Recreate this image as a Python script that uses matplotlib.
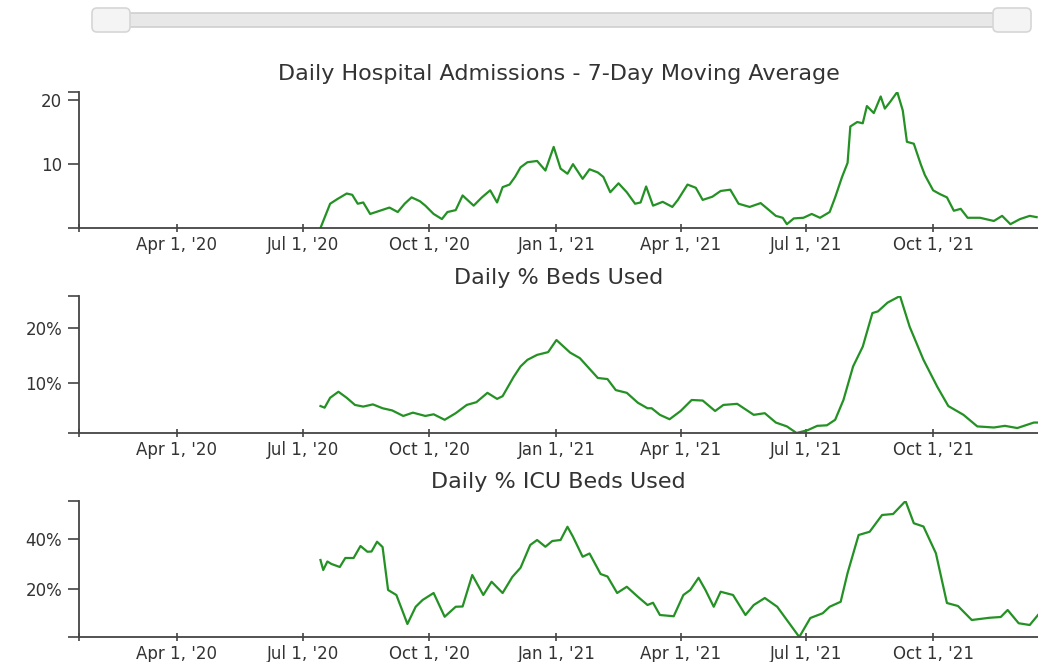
import pandas as pd
import matplotlib.pyplot as plt
import matplotlib.dates as mdates
from matplotlib.patches import FancyBboxPatch
from matplotlib.ticker import FuncFormatter

# daily hospital admissions, 7-day moving average
adm_dates = ["2020-07-14", "2020-07-21", "2020-07-26", "2020-08-02", "2020-08-06", "2020-08-10",
             "2020-08-14", "2020-08-19", "2020-08-26", "2020-09-02", "2020-09-08", "2020-09-13",
             "2020-09-18", "2020-09-24", "2020-09-28", "2020-10-04", "2020-10-10", "2020-10-14",
             "2020-10-20", "2020-10-25", "2020-11-02", "2020-11-08", "2020-11-14", "2020-11-19",
             "2020-11-23", "2020-11-28", "2020-12-02", "2020-12-06", "2020-12-11", "2020-12-18",
             "2020-12-24", "2020-12-30", "2021-01-04", "2021-01-09", "2021-01-13", "2021-01-20",
             "2021-01-25", "2021-01-31", "2021-02-04", "2021-02-09", "2021-02-15", "2021-02-21",
             "2021-02-27", "2021-03-03", "2021-03-07", "2021-03-12", "2021-03-19", "2021-03-26",
             "2021-03-30", "2021-04-06", "2021-04-12", "2021-04-17", "2021-04-24", "2021-04-30",
             "2021-05-07", "2021-05-13", "2021-05-21", "2021-05-29", "2021-06-03", "2021-06-09",
             "2021-06-14", "2021-06-17", "2021-06-22", "2021-06-29", "2021-07-05", "2021-07-11",
             "2021-07-18", "2021-07-22", "2021-07-27", "2021-07-31", "2021-08-02", "2021-08-07",
             "2021-08-11", "2021-08-14", "2021-08-19", "2021-08-24", "2021-08-27", "2021-08-31",
             "2021-09-05", "2021-09-09", "2021-09-12", "2021-09-17", "2021-09-22", "2021-09-25",
             "2021-10-01", "2021-10-06", "2021-10-11", "2021-10-16", "2021-10-21", "2021-10-26",
             "2021-11-04", "2021-11-14", "2021-11-20", "2021-11-26", "2021-12-03", "2021-12-10",
             "2021-12-15"]
adm_vals = [0.0, 3.8, 4.5, 5.4, 5.2, 3.8, 4.0, 2.2, 2.7, 3.2, 2.5, 3.8,
            4.8, 4.2, 3.5, 2.2, 1.4, 2.5, 2.8, 5.1, 3.5, 4.8, 5.9, 4.0,
            6.4, 6.8, 8.0, 9.5, 10.3, 10.5, 9.0, 12.7, 9.3, 8.5, 10.0, 7.7,
            9.2, 8.7, 8.0, 5.6, 7.0, 5.6, 3.8, 4.0, 6.5, 3.5, 4.1, 3.3,
            4.4, 6.8, 6.3, 4.4, 4.9, 5.8, 6.0, 3.8, 3.3, 3.9, 3.0, 1.9,
            1.6, 0.6, 1.5, 1.6, 2.2, 1.6, 2.5, 4.8, 8.0, 10.2, 15.9, 16.6,
            16.4, 19.1, 18.0, 20.6, 18.7, 19.8, 21.3, 18.4, 13.5, 13.2, 10.0, 8.3,
            5.9, 5.3, 4.8, 2.7, 3.0, 1.6, 1.6, 1.1, 1.9, 0.6, 1.4, 1.9,
            1.7]

# daily % beds used
beds_dates = ["2020-07-14", "2020-07-17", "2020-07-21", "2020-07-27", "2020-08-02", "2020-08-08",
              "2020-08-14", "2020-08-21", "2020-08-28", "2020-09-04", "2020-09-12", "2020-09-19",
              "2020-09-28", "2020-10-04", "2020-10-12", "2020-10-20", "2020-10-28", "2020-11-04",
              "2020-11-12", "2020-11-19", "2020-11-23", "2020-12-01", "2020-12-06", "2020-12-11",
              "2020-12-18", "2020-12-26", "2021-01-01", "2021-01-11", "2021-01-18", "2021-01-31",
              "2021-02-07", "2021-02-13", "2021-02-21", "2021-03-01", "2021-03-08", "2021-03-11",
              "2021-03-17", "2021-03-24", "2021-04-01", "2021-04-09", "2021-04-17", "2021-04-26",
              "2021-05-02", "2021-05-12", "2021-05-24", "2021-06-01", "2021-06-09", "2021-06-17",
              "2021-06-24", "2021-07-02", "2021-07-09", "2021-07-16", "2021-07-22", "2021-07-28",
              "2021-08-04", "2021-08-11", "2021-08-18", "2021-08-22", "2021-08-29", "2021-09-07",
              "2021-09-14", "2021-09-24", "2021-10-04", "2021-10-12", "2021-10-23", "2021-11-02",
              "2021-11-14", "2021-11-22", "2021-12-01", "2021-12-13", "2021-12-16"]
beds_vals = [5.8, 5.5, 7.3, 8.4, 7.3, 6.0, 5.7, 6.1, 5.4, 5.0, 4.0, 4.6,
             4.0, 4.3, 3.3, 4.5, 6.0, 6.5, 8.2, 7.1, 7.6, 11.1, 13.0, 14.2,
             15.1, 15.6, 17.8, 15.5, 14.5, 10.9, 10.7, 8.7, 8.2, 6.4, 5.4, 5.4,
             4.2, 3.4, 4.9, 6.9, 6.8, 4.9, 6.0, 6.2, 4.2, 4.5, 2.8, 2.1,
             0.9, 1.4, 2.2, 2.3, 3.3, 6.9, 13.0, 16.6, 22.7, 23.0, 24.6, 25.8,
             20.2, 14.2, 9.3, 5.8, 4.2, 2.1, 1.9, 2.2, 1.8, 2.8, 2.8]

# daily % ICU beds used
icu_dates = ["2020-07-14", "2020-07-16", "2020-07-19", "2020-07-22", "2020-07-28", "2020-08-01",
             "2020-08-07", "2020-08-12", "2020-08-17", "2020-08-20", "2020-08-24", "2020-08-28",
             "2020-09-01", "2020-09-07", "2020-09-12", "2020-09-15", "2020-09-21", "2020-09-26",
             "2020-10-04", "2020-10-12", "2020-10-20", "2020-10-25", "2020-11-01", "2020-11-09",
             "2020-11-15", "2020-11-23", "2020-11-30", "2020-12-06", "2020-12-13", "2020-12-18",
             "2020-12-24", "2020-12-29", "2021-01-04", "2021-01-09", "2021-01-13", "2021-01-20",
             "2021-01-25", "2021-02-02", "2021-02-07", "2021-02-14", "2021-02-21", "2021-03-01",
             "2021-03-08", "2021-03-12", "2021-03-17", "2021-03-27", "2021-04-03", "2021-04-08",
             "2021-04-14", "2021-04-19", "2021-04-25", "2021-04-30", "2021-05-09", "2021-05-18",
             "2021-05-24", "2021-06-01", "2021-06-10", "2021-06-17", "2021-06-26", "2021-07-04",
             "2021-07-13", "2021-07-18", "2021-07-26", "2021-07-31", "2021-08-08", "2021-08-16",
             "2021-08-25", "2021-09-02", "2021-09-11", "2021-09-17", "2021-09-24", "2021-10-03",
             "2021-10-11", "2021-10-19", "2021-10-29", "2021-11-11", "2021-11-19", "2021-11-24",
             "2021-12-02", "2021-12-10", "2021-12-16"]
icu_vals = [31.6, 27.6, 31.0, 30.0, 28.8, 32.4, 32.4, 37.2, 34.9, 35.0, 38.9, 36.8,
            19.6, 17.6, 10.4, 6.0, 12.9, 15.6, 18.4, 8.9, 12.9, 13.0, 25.6, 17.6,
            22.9, 18.4, 24.8, 28.5, 37.6, 39.6, 36.9, 39.2, 39.6, 44.9, 40.9, 32.9,
            34.2, 26.0, 25.0, 18.4, 20.9, 16.9, 13.6, 14.5, 9.6, 9.1, 17.6, 19.6,
            24.5, 19.6, 12.9, 18.9, 17.6, 9.6, 13.6, 16.4, 12.9, 7.6, 0.8, 8.4,
            10.3, 12.9, 14.9, 26.4, 41.6, 42.9, 49.6, 50.0, 55.2, 46.3, 45.0, 34.3,
            14.4, 13.2, 7.6, 8.5, 8.8, 11.6, 6.3, 5.6, 9.6]

panels = [
    ("Daily Hospital Admissions - 7-Day Moving Average", adm_dates, adm_vals, [10, 20], "{:d}"),
    ("Daily % Beds Used", beds_dates, beds_vals, [10, 20], "{:d}%"),
    ("Daily % ICU Beds Used", icu_dates, icu_vals, [20, 40], "{:d}%"),
]

W, H = 1038, 662
LINE = "#249124"
AXIS = "#444444"
TEXT = "#333333"

x_start = pd.Timestamp("2020-01-21")
x_end = pd.Timestamp("2021-12-16")
tick_dates = pd.to_datetime(["2020-04-01", "2020-07-01", "2020-10-01", "2021-01-01",
                             "2021-04-01", "2021-07-01", "2021-10-01"])


def date_label(x, pos):
    d = mdates.num2date(x)
    return f"{d:%b} {d.day}, '{d:%y}"


fig = plt.figure(figsize=(W / 100, H / 100), dpi=100)
plt.rcParams['font.family'] = ['DejaVu Sans']

# axes boxes in pixels (top, bottom)
boxes = [(92, 228), (296, 433), (501, 637)]
left = 79

for (title, dates, vals, yt, fmt), (top, bot) in zip(panels, boxes):
    ax = fig.add_axes([left / W, 1 - bot / H, (W - left) / W, (bot - top) / H])
    x = pd.to_datetime(dates)
    ax.plot(x, vals, color=LINE, lw=1.6, solid_joinstyle='round')
    lo = 0 if min(vals) <= 0 else min(vals)
    ax.set_ylim(lo, max(vals))
    ax.set_xlim(x_start, x_end)

    ax.set_xticks(tick_dates)
    ax.xaxis.set_major_formatter(FuncFormatter(date_label))
    ax.set_xticks([mdates.date2num(x_start)], minor=True)
    ax.set_yticks(yt)
    ax.set_yticklabels([fmt.format(v) for v in yt])
    ax.set_yticks([lo, max(vals)], minor=True)

    for s in ["top", "right"]:
        ax.spines[s].set_visible(False)
    for s in ["left", "bottom"]:
        ax.spines[s].set_color(AXIS)
        ax.spines[s].set_linewidth(1.3)
    ax.tick_params(axis='y', which='both', length=8, width=1.2, color=AXIS,
                   labelsize=12, labelcolor=TEXT, pad=4)
    ax.tick_params(axis='x', which='both', length=6, width=1.2, color=AXIS,
                   labelsize=12, labelcolor=TEXT, pad=3, direction='inout')
    ax.set_title(title, fontsize=16, color=TEXT, pad=9)

# range slider at the top
def inch_box(x0, y0, x1, y1, fc, ec, r):
    p = FancyBboxPatch((x0 / 100, (H - y1) / 100), (x1 - x0) / 100, (y1 - y0) / 100,
                       boxstyle=f"round,pad=0,rounding_size={r}",
                       transform=fig.dpi_scale_trans, fc=fc, ec=ec, lw=1.2)
    fig.patches.append(p)

inch_box(128, 13, 996, 27, "#e8e8e8", "#cfcfcf", 0.01)
inch_box(92, 8, 130, 32, "#f4f4f4", "#d6d6d6", 0.05)
inch_box(993, 8, 1031, 32, "#f4f4f4", "#d6d6d6", 0.05)

fig.savefig("out.png", dpi=100)
